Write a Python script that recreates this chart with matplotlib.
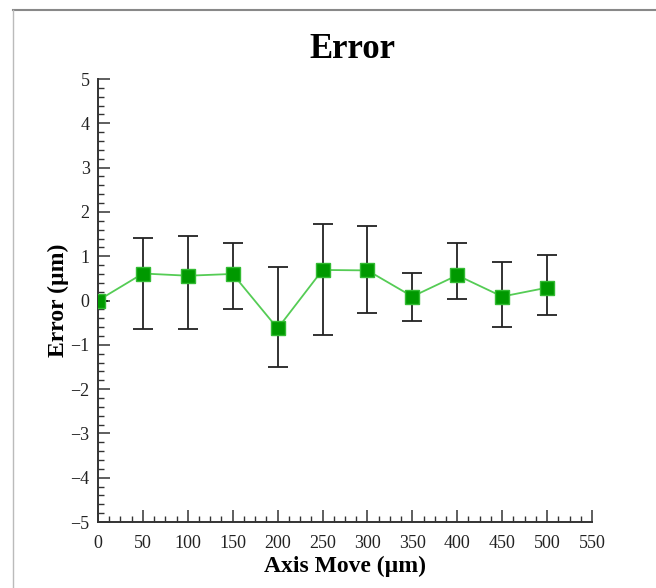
import matplotlib
matplotlib.use("Agg")
import matplotlib.pyplot as plt
from matplotlib.lines import Line2D
from matplotlib.ticker import MultipleLocator

plt.rcParams['font.family'] = ['Liberation Serif', 'DejaVu Serif']

# Datos
movimiento = [0, 50, 100, 150, 200, 250, 300, 350, 400, 450, 500]
error = [0.0, 0.61, 0.56, 0.60, -0.63, 0.69, 0.68, 0.09, 0.57, 0.09, 0.29]
error_sup = [0.0, 1.42, 1.45, 1.30, 0.76, 1.73, 1.68, 0.62, 1.29, 0.88, 1.02]
error_inf = [0.0, -0.65, -0.65, -0.18, -1.49, -0.77, -0.29, -0.46, 0.03, -0.60, -0.32]

yerr = [[e - lo for e, lo in zip(error, error_inf)],
        [hi - e for e, hi in zip(error, error_sup)]]

fig = plt.figure(figsize=(6.56, 5.88), dpi=100)
ax = fig.add_axes([0.1494, 0.1122, 0.753, 0.7534])

# barras de error
ax.errorbar(movimiento, error, yerr=yerr, fmt='none', ecolor='#222222',
            elinewidth=1.3, capsize=7.5, capthick=1.3, zorder=2)
# linea y marcadores
ax.plot(movimiento, error, color='#55cc55', linewidth=1.3, zorder=3)
ax.plot(movimiento, error, 's', markersize=10, markerfacecolor='#009900',
        markeredgecolor='#33bb33', markeredgewidth=1, zorder=4)

ax.set_xlim(0, 550)
ax.set_ylim(-5, 5)
ax.xaxis.set_major_locator(MultipleLocator(50))
ax.xaxis.set_minor_locator(MultipleLocator(12.5))
ax.yaxis.set_major_locator(MultipleLocator(1))
ax.yaxis.set_minor_locator(MultipleLocator(0.2))

for s in ['top', 'right']:
    ax.spines[s].set_visible(False)
for s in ['left', 'bottom']:
    ax.spines[s].set_color('#333333')
    ax.spines[s].set_linewidth(1.4)

ax.tick_params(which='both', direction='in', colors='#333333', labelsize=13,
               labelcolor='#222222')
ax.tick_params(which='major', length=8.5, width=1.1)
ax.tick_params(which='minor', length=4.5, width=1.0)
ax.tick_params(axis='x', pad=9)
ax.tick_params(axis='y', pad=6)

ax.set_yticks(range(-5, 6))
ax.set_yticklabels([str(v).replace('-', '\u2212') for v in range(-5, 6)])

ax.set_title('Error', fontsize=25, fontweight='bold', pad=15, x=0.515)
ax.set_xlabel('Axis Move (\u00b5m)', fontsize=17, fontweight='bold', labelpad=3)
ax.set_ylabel('Error (\u00b5m)', fontsize=17, fontweight='bold', labelpad=1)

# marco gris
fig.add_artist(Line2D([13 / 656, 1], [1 - 9.5 / 588, 1 - 9.5 / 588],
                      transform=fig.transFigure, color='#888888', linewidth=1.5))
fig.add_artist(Line2D([13 / 656, 13 / 656], [0, 1 - 9.5 / 588],
                      transform=fig.transFigure, color='#bbbbbb', linewidth=1.0))

fig.savefig('out.png', dpi=100)
